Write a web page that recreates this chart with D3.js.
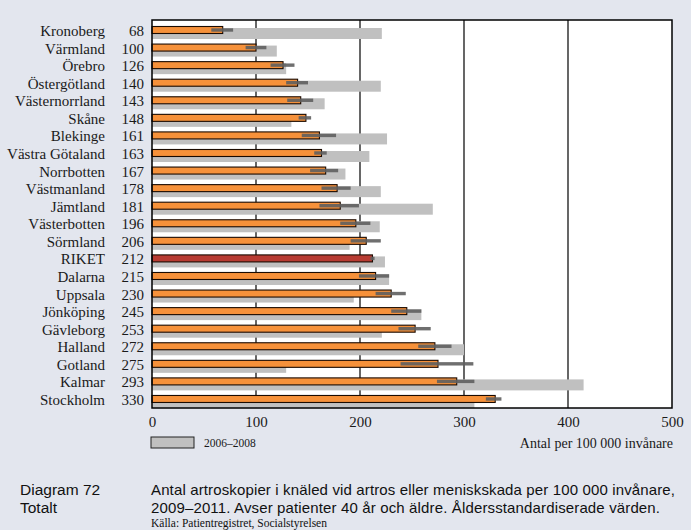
<!DOCTYPE html>
<html><head><meta charset="utf-8">
<script src="https://cdn.jsdelivr.net/npm/d3@7"></script>
<style>html,body{margin:0;padding:0;background:#e3e6ee;}svg{display:block;}</style>
</head><body>
<svg id="c" width="691" height="530"></svg>
<script>
const regions = ["Kronoberg","Värmland","Örebro","Östergötland","Västernorrland","Skåne","Blekinge","Västra Götaland","Norrbotten","Västmanland","Jämtland","Västerbotten","Sörmland","RIKET","Dalarna","Uppsala","Jönköping","Gävleborg","Halland","Gotland","Kalmar","Stockholm"];
const values2009_2011 = [68,100,126,140,143,148,161,163,167,178,181,196,206,212,215,230,245,253,272,275,293,330];
const ciLow  = [57,90,114,129,130,141,144,156,152,163,161,181,191,210,199,215,230,237,256,239,274,321];
const ciHigh = [78,110,137,150,155,153,177,168,179,191,199,210,220,214,228,244,259,268,288,309,310,336];
const values2006_2008 = [221,120,129,220,166,134,226,209,186,220,270,219,190,224,228,194,259,221,300,129,415,310];
const xTicks = [0,100,200,300,400,500];

const svg = d3.select("#c");
const W=691,H=530;
svg.append("rect").attr("width",W).attr("height",H).attr("fill","#e3e6ee");

const x = d3.scaleLinear().domain([0,500]).range([152,672]);
const y = d3.scaleBand().domain(regions).range([26, 26+22*17.57]).padding(0);
const plotTop=20, plotBottom=408;

svg.append("rect").attr("x",x(0)).attr("y",plotTop).attr("width",x(500)-x(0)).attr("height",plotBottom-plotTop).attr("fill","#fff");

// gridlines
svg.append("g").selectAll("line").data(xTicks.slice(1,-1)).join("line")
  .attr("x1",d=>x(d)).attr("x2",d=>x(d)).attr("y1",plotTop).attr("y2",plotBottom)
  .attr("stroke","#000").attr("stroke-width",1.2);

const data = regions.map((r,i)=>({r,v:values2009_2011[i],lo:ciLow[i],hi:ciHigh[i],old:values2006_2008[i]}));

// grey (2006-2008)
svg.append("g").selectAll("rect").data(data).join("rect")
  .attr("x",x(0)).attr("y",d=>y(d.r)+2).attr("width",d=>x(d.old)-x(0)).attr("height",11)
  .attr("fill","#c0c0c0");
// orange
svg.append("g").selectAll("rect").data(data).join("rect")
  .attr("x",x(0)).attr("y",d=>y(d.r)+0.5).attr("width",d=>x(d.v)-x(0)).attr("height",7)
  .attr("fill",d=>d.r==="RIKET"?"#b83b32":"#f6913a").attr("stroke","#1a0a00").attr("stroke-width",1.1);
// error bars
svg.append("g").selectAll("rect").data(data).join("rect")
  .attr("x",d=>x(d.lo)).attr("y",d=>y(d.r)+2.3).attr("width",d=>x(d.hi)-x(d.lo)).attr("height",3.4)
  .attr("fill","#5f5f5f").attr("opacity",0.9);

// frame
svg.append("rect").attr("x",x(0)).attr("y",plotTop).attr("width",x(500)-x(0)).attr("height",plotBottom-plotTop)
  .attr("fill","none").attr("stroke","#000").attr("stroke-width",1.5);

const serif = "'Liberation Serif','DejaVu Serif',serif";
// labels
const lab = svg.append("g").attr("font-family",serif).attr("font-size",15).attr("fill","#1a1a1a");
lab.selectAll("text.n").data(data).join("text").attr("class","n")
  .attr("x",105).attr("y",d=>y(d.r)+10).attr("text-anchor","end").text(d=>d.r);
lab.selectAll("text.v").data(data).join("text").attr("class","v")
  .attr("x",144).attr("y",d=>y(d.r)+10).attr("text-anchor","end").text(d=>d.v);

// x axis labels
const ax = svg.append("g").attr("transform",`translate(0,${plotBottom})`)
  .call(d3.axisBottom(x).tickValues(xTicks).tickSize(0).tickPadding(8).tickFormat(d3.format("d")));
ax.select(".domain").remove();
ax.selectAll("text").attr("font-family",serif).attr("font-size",15).attr("fill","#1a1a1a");

// legend
svg.append("rect").attr("x",151).attr("y",437).attr("width",43).attr("height",11)
  .attr("fill","#c0c0c0").attr("stroke","#222").attr("stroke-width",1);
svg.append("text").attr("x",204).attr("y",447).attr("font-family",serif).attr("font-size",11.5).attr("fill","#1a1a1a").text("2006–2008");
svg.append("text").attr("x",673).attr("y",448).attr("text-anchor","end").attr("font-family",serif).attr("font-size",14).attr("fill","#1a1a1a").text("Antal per 100 000 invånare");

// caption
const sans = "'Liberation Sans',Arial,sans-serif";
const cap = svg.append("g").attr("font-family",sans).attr("font-size",15).attr("fill","#111");
cap.append("text").attr("x",20).attr("y",495).attr("font-size",15.5).text("Diagram 72");
cap.append("text").attr("x",20).attr("y",513).attr("font-size",15.5).text("Totalt");
cap.append("text").attr("x",151).attr("y",495).attr("textLength",524).attr("lengthAdjust","spacing").text("Antal artroskopier i knäled vid artros eller meniskskada per 100 000 invånare,");
cap.append("text").attr("x",151).attr("y",513).attr("textLength",509).attr("lengthAdjust","spacing").text("2009–2011. Avser patienter 40 år och äldre. Åldersstandardiserade värden.");
svg.append("text").attr("x",151).attr("y",527).attr("font-family",serif).attr("font-size",11.5).attr("fill","#111").text("Källa: Patientregistret, Socialstyrelsen");
</script>
</body></html>
